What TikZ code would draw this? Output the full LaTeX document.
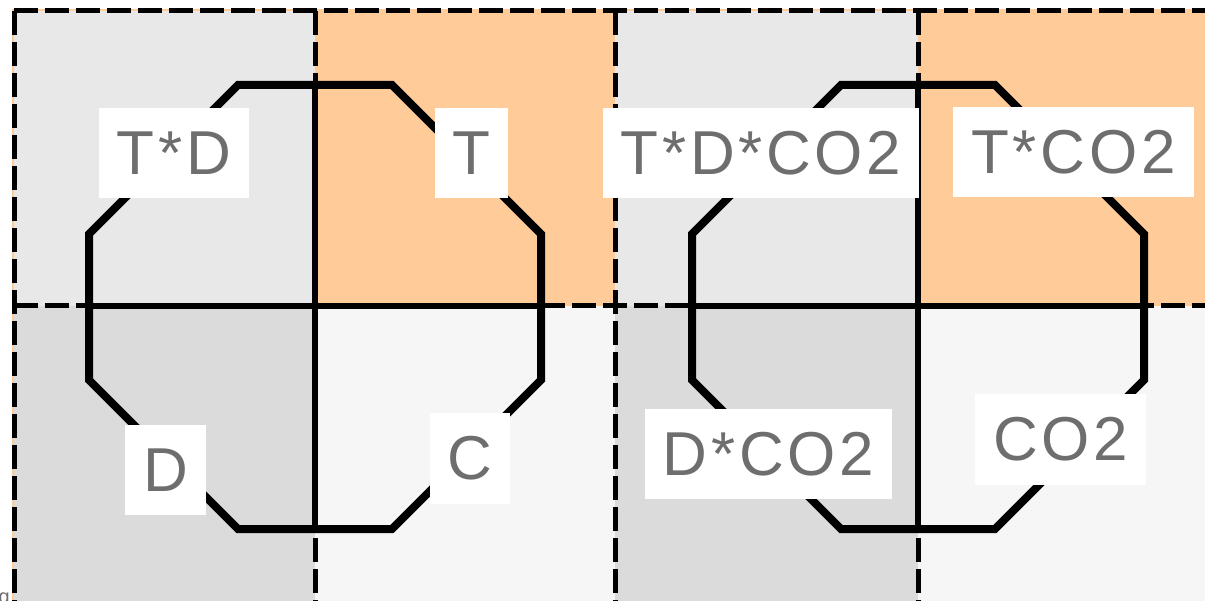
\documentclass[tikz,border=0pt]{standalone}
\usepackage{fontspec}
\newfontfamily\labelfont[LetterSpace=6]{Liberation Sans}
\definecolor{warm}{HTML}{FFCC99}
\definecolor{lightdots}{HTML}{E8E8E8}
\definecolor{darkdots}{HTML}{DBDBDB}
\definecolor{sparsedots}{HTML}{F6F6F6}
\definecolor{labelgray}{HTML}{6E6E6E}
\begin{document}
\begin{tikzpicture}[x=1pt,y=-1pt,
  gridline/.style={line width=5pt,dash pattern=on 24pt off 7pt},
  crossline/.style={line width=6pt},
  octo/.style={line width=8pt,line join=miter},
  lbl/.style={fill=white,text=labelgray,font=\labelfont\fontsize{62}{74}\selectfont,
    minimum height=90pt,inner xsep=18pt,inner ysep=0pt}]
\useasboundingbox (0,0) rectangle (1205,601);
\fill[white] (0,0) rectangle (1205,601);
% warm underlay showing through the dash gaps at the outer edges
\fill[warm] (12,9) rectangle (1205,601);
% quadrant fills of the two panels
\foreach \xa/\xb/\xc in {14/315/615, 615/918/1205}{
  \fill[lightdots] (\xa,11) rectangle (\xb,306);
  \fill[warm] (\xb,11) rectangle (\xc,306);
  \fill[darkdots] (\xa,306) rectangle (\xb,601);
  \fill[sparsedots] (\xb,306) rectangle (\xc,601);
}
% dashed quadrant borders
\draw[gridline] (14,11) -- (1205,11);
\draw[gridline] (14,306) -- (1205,306);
\foreach \x in {14,315,615,918}{
  \draw[gridline] (\x,11) -- (\x,601);
}
% octagons with their solid crosses
\foreach \cx in {315,918}{
  \begin{scope}[shift={(\cx,307)}]
    \draw[crossline] (0,-222) -- (0,222);
    \draw[crossline] (-226,-1) -- (226,-1);
    \draw[octo] (-77,-222) -- (77,-222) -- (226,-73) -- (226,73) -- (77,222)
      -- (-77,222) -- (-226,73) -- (-226,-73) -- cycle;
  \end{scope}
}
% labels
\node[lbl] (td) at (174,153) {T*D};
\node[lbl] (t) at (471.5,153) {T};
\node[lbl] (d) at (165.5,470) {D};
\node[lbl] (c) at (470,458.5) {C};
\node[lbl] (tdco) at (761,153) {T*D*CO2};
\node[lbl] (tco) at (1073.5,152.5) {T*CO2};
\node[lbl] (dco) at (768.5,454) {D*CO2};
\node[lbl] (co) at (1060.5,439.5) {CO2};
% fragment of a caption at the lower left, cut by the page edge
\node[text=labelgray,font=\labelfont\fontsize{20}{24}\selectfont,anchor=base east,inner sep=0pt] (frag) at (10,603) {g};
\end{tikzpicture}
\end{document}
